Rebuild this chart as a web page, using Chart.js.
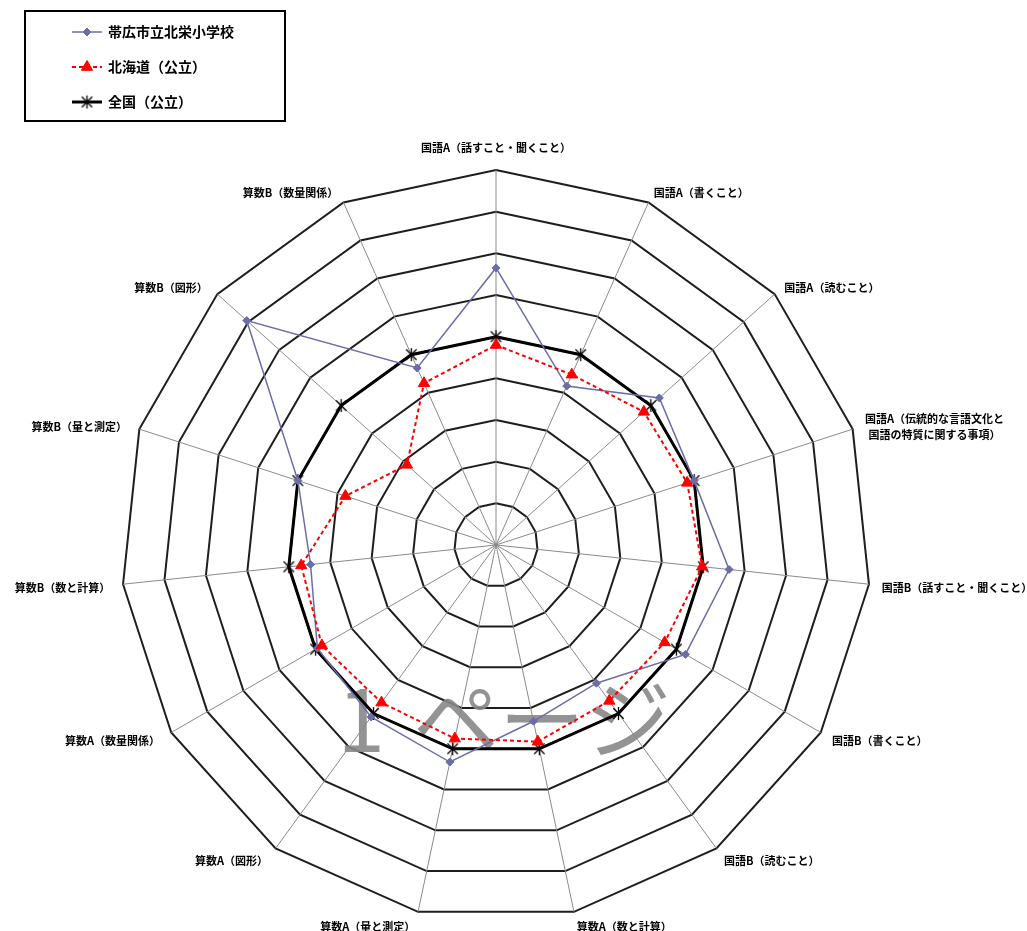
<!DOCTYPE html>
<html lang="ja">
<head>
<meta charset="utf-8">
<title>全国学力・学習状況調査 結果レーダーチャート</title>
<script src="https://cdn.jsdelivr.net/npm/chart.js@4.4.1/dist/chart.umd.min.js"></script>
<style>
  html, body { margin: 0; padding: 0; background: #ffffff; }
  #chart { display: block; }
</style>
</head>
<body>
<canvas id="chart" width="1027" height="931"></canvas>
<script>
// Survey areas, one spoke each, clockwise from the top
const categories = [
  '国語A（話すこと・聞くこと）',
  '国語A（書くこと）',
  '国語A（読むこと）',
  ['国語A（伝統的な言語文化と', '国語の特質に関する事項）'],
  '国語B（話すこと・聞くこと）',
  '国語B（書くこと）',
  '国語B（読むこと）',
  '算数A（数と計算）',
  '算数A（量と測定）',
  '算数A（図形）',
  '算数A（数量関係）',
  '算数B（数と計算）',
  '算数B（量と測定）',
  '算数B（図形）',
  '算数B（数量関係）'
];

// Series names
const schoolName = '帯広市立北栄小学校';
const hokkaidoName = '北海道（公立）';
const nationalName = '全国（公立）';

// Scores indexed to the national average (national = 100)
const schoolScores   = [133, 83.5, 105.5, 100, 112.5, 105, 82, 86.5, 106.5, 102, 99, 89.5, 100, 161, 93];
const hokkaidoScores = [96, 89.5, 95.5, 96.5, 99.5, 93.5, 92.5, 96.5, 95, 93.5, 96.5, 94, 76, 57.5, 85];
const nationalScores = [100, 100, 100, 100, 100, 100, 100, 100, 100, 100, 100, 100, 100, 100, 100];

// Radial axis range and ring interval
const axisMin = 0;
const axisMax = 180;
const axisStep = 20;

// Page marker printed across the sheet
const pageMark = '1 ページ';

// Asterisk marker (× with a vertical stroke) for the national series
function makeAsterisk(size, color, width) {
  const cv = document.createElement('canvas');
  cv.width = size; cv.height = size;
  const g = cv.getContext('2d');
  const m = size / 2, r = size / 2 - 1;
  g.strokeStyle = color;
  g.lineWidth = width;
  g.lineCap = 'butt';
  g.beginPath();
  g.moveTo(m - r * 0.8, m - r * 0.8); g.lineTo(m + r * 0.8, m + r * 0.8);
  g.moveTo(m + r * 0.8, m - r * 0.8); g.lineTo(m - r * 0.8, m + r * 0.8);
  g.moveTo(m, m - r); g.lineTo(m, m + r);
  g.stroke();
  return cv;
}
const asterisk = makeAsterisk(15, '#000000', 1.3);

const FONT_FAMILY = '"Noto Sans CJK JP", "Noto Sans", sans-serif';

// Spoke titles drawn just outside the outer ring
const spokeTitles = {
  id: 'spokeTitles',
  afterDraw(chart) {
    const scale = chart.scales.r;
    const ctx = chart.ctx;
    const labels = chart.data.labels;
    ctx.save();
    ctx.fillStyle = '#000000';
    ctx.font = 'bold 11px ' + FONT_FAMILY;
    const lineH = 16;
    labels.forEach((lab, i) => {
      const lines = Array.isArray(lab) ? lab : [lab];
      const theta = scale.getIndexAngle(i);
      const s = Math.sin(theta), c = Math.cos(theta);
      const p = scale.getPointPosition(i, scale.drawingArea + 13);
      const widths = lines.map(t => ctx.measureText(t).width);
      const blockW = Math.max.apply(null, widths);
      let left;
      if (Math.abs(s) < 0.05) left = p.x - blockW / 2;
      else if (s > 0) left = p.x;
      else left = p.x - blockW;
      let cy;
      if (Math.abs(s) < 0.05) cy = c > 0 ? p.y - 9 : p.y + 9;
      else cy = p.y + 2;
      ctx.textBaseline = 'middle';
      ctx.textAlign = 'center';
      lines.forEach((t, k) => {
        const y = cy + (k - (lines.length - 1) / 2) * lineH;
        ctx.fillText(t, left + blockW / 2, y);
      });
    });
    ctx.restore();
  }
};

// Large grey page mark laid over the grid, under the series
const pageMarkPlugin = {
  id: 'pageMark',
  beforeDatasetsDraw(chart) {
    const scale = chart.scales.r;
    const ctx = chart.ctx;
    const parts = pageMark.split(' ');
    const baseX = scale.xCenter, baseY = scale.yCenter + 207;
    ctx.save();
    ctx.font = '86px ' + FONT_FAMILY;
    ctx.fillStyle = 'rgba(135,135,135,0.9)';
    ctx.textBaseline = 'alphabetic';
    ctx.textAlign = 'center';
    ctx.fillText(parts[0], baseX - 135, baseY);
    ctx.textAlign = 'left';
    ctx.fillText(parts[1], baseX - 83, baseY);
    ctx.restore();
  }
};

// Boxed legend in the top-left corner
const boxedLegend = {
  id: 'boxedLegend',
  afterDraw(chart) {
    const ctx = chart.ctx;
    const left = 25, top = 11, width = 260, height = 110;
    ctx.save();
    ctx.strokeStyle = '#000000';
    ctx.lineWidth = 2;
    ctx.strokeRect(left, top, width, height);
    ctx.font = 'bold 14px ' + FONT_FAMILY;
    ctx.textBaseline = 'middle';
    ctx.textAlign = 'left';
    chart.data.datasets.forEach((ds, i) => {
      const y = 32 + i * 35;
      ctx.save();
      ctx.strokeStyle = ds.borderColor;
      ctx.lineWidth = ds.borderWidth;
      ctx.setLineDash(ds.borderDash || []);
      ctx.beginPath();
      ctx.moveTo(72, y);
      ctx.lineTo(102, y);
      ctx.stroke();
      ctx.setLineDash([]);
      ctx.fillStyle = ds.pointBackgroundColor;
      ctx.strokeStyle = ds.pointBorderColor;
      ctx.lineWidth = ds.pointBorderWidth;
      Chart.helpers.drawPoint(ctx, {
        pointStyle: ds.pointStyle,
        radius: ds.pointRadius,
        rotation: 0,
        borderWidth: ds.pointBorderWidth
      }, 87, y);
      ctx.restore();
      ctx.fillStyle = '#000000';
      ctx.fillText(ds.label, 108, y);
    });
    ctx.restore();
  }
};

new Chart(document.getElementById('chart'), {
  type: 'radar',
  data: {
    labels: categories,
    datasets: [
      {
        label: schoolName,
        data: schoolScores,
        borderColor: '#6c6ca8',
        borderWidth: 1.5,
        pointStyle: 'rectRot',
        pointRadius: 4,
        pointBackgroundColor: '#6c6ca8',
        pointBorderColor: '#6c6ca8',
        pointBorderWidth: 1,
        fill: false,
        order: 2
      },
      {
        label: hokkaidoName,
        data: hokkaidoScores,
        borderColor: '#ff0000',
        borderWidth: 2,
        borderDash: [4, 3],
        pointStyle: 'triangle',
        pointRadius: 6.5,
        pointBackgroundColor: '#ff0000',
        pointBorderColor: '#ff0000',
        pointBorderWidth: 1,
        fill: false,
        order: 1
      },
      {
        label: nationalName,
        data: nationalScores,
        borderColor: '#000000',
        borderWidth: 3,
        pointStyle: asterisk,
        pointRadius: 7,
        pointBackgroundColor: '#000000',
        pointBorderColor: '#000000',
        pointBorderWidth: 1,
        fill: false,
        order: 3
      }
    ]
  },
  options: {
    responsive: false,
    animation: false,
    layout: { padding: { left: 121, right: 156, top: 170, bottom: 11 } },
    elements: { line: { tension: 0 } },
    plugins: {
      legend: { display: false },
      tooltip: { enabled: false }
    },
    scales: {
      r: {
        min: axisMin,
        max: axisMax,
        ticks: { display: false, stepSize: axisStep },
        grid: { color: '#1e1e1e', lineWidth: 2, circular: false },
        angleLines: { color: '#8a8a8a', lineWidth: 1 },
        pointLabels: { display: false }
      }
    }
  },
  plugins: [pageMarkPlugin, spokeTitles, boxedLegend]
});
</script>
</body>
</html>
